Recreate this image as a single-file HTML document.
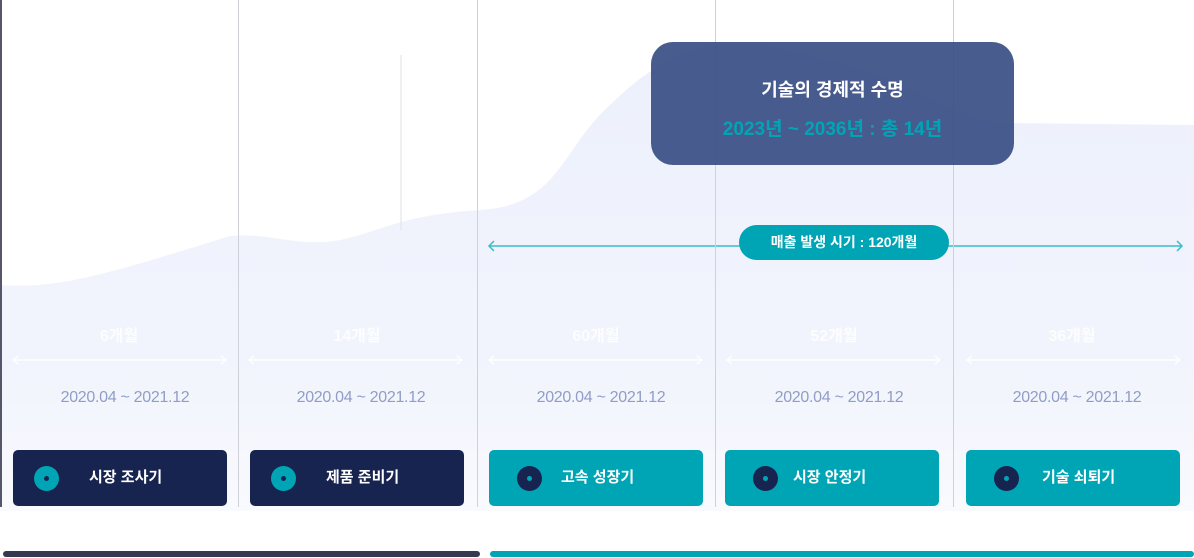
<!DOCTYPE html>
<html><head><meta charset="utf-8"><style>
*{margin:0;padding:0;box-sizing:border-box}
body{width:1194px;height:558px;background:#fff;position:relative;overflow:hidden;font-family:"Liberation Sans","Noto Sans CJK KR",sans-serif}
.a{position:absolute}
.vl{position:absolute;top:0;height:507px;width:1px;background:#cfd1da}
.btn{position:absolute;top:450px;width:214px;height:56px;border-radius:5px;color:#fff;font-weight:bold;font-size:15px;line-height:56px}
.btn .c{position:absolute;left:21px;top:16px;width:25px;height:25px;border-radius:50%}
.btn .c::after{content:"";position:absolute;left:10px;top:10px;width:5px;height:5px;border-radius:50%}
.d{background:#17244f}.d .c{background:#00a5b5}.d .c::after{background:#17244f}
.t{background:#00a5b5}.t .c{background:#17244f;left:28px}.t .c::after{background:#00a5b5}
.lab{position:absolute;width:238px;text-align:center;font-size:16px;font-weight:bold;color:#fff;top:322px;opacity:.9}
.dt{position:absolute;width:238px;text-align:center;font-size:16px;color:#8f9dc7;top:389px;letter-spacing:-0.3px}
</style></head><body>
<svg class="a" style="left:0;top:0" width="1194" height="558">
<defs><linearGradient id="g" x1="0" y1="0" x2="0" y2="1"><stop offset="0" stop-color="#ecf0fc"/><stop offset="0.75" stop-color="#f3f5fd"/><stop offset="1" stop-color="#f9fafe"/></linearGradient></defs>
<path d="M0,285 C60,290 120,270 230,236 C270,232 300,248 340,240 C380,232 400,215 480,210 C560,205 560,150 610,105 C650,65 690,45 730,45 C800,45 840,65 880,75 C940,100 970,123 1010,123 L1194,125 L1194,511 L0,511 Z" fill="url(#g)"/>
<line x1="401" y1="55" x2="401" y2="230" stroke="#e2e2e6" stroke-width="1"/>
<g stroke="#fff" stroke-width="1.5" fill="none" opacity="0.9">
<line x1="13" y1="360" x2="226" y2="360"/><path d="M18,356 L13,360 L18,364 M221,356 L226,360 L221,364"/>
<line x1="249" y1="360" x2="462" y2="360"/><path d="M254,356 L249,360 L254,364 M457,356 L462,360 L457,364"/>
<line x1="489" y1="360" x2="702" y2="360"/><path d="M494,356 L489,360 L494,364 M697,356 L702,360 L697,364"/>
<line x1="727" y1="360" x2="940" y2="360"/><path d="M732,356 L727,360 L732,364 M935,356 L940,360 L935,364"/>
<line x1="967" y1="360" x2="1180" y2="360"/><path d="M972,356 L967,360 L972,364 M1175,356 L1180,360 L1175,364"/>
</g>
<g stroke="#3bbcc8" stroke-width="1.5" fill="none">
<line x1="489" y1="246" x2="1182" y2="246"/><path d="M494,241 L489,246 L494,251 M1177,241 L1182,246 L1177,251"/>
</g>
</svg>
<div class="a" style="left:0;top:0;width:2px;height:507px;background:#55566a"></div>
<div class="vl" style="left:238px"></div>
<div class="vl" style="left:477px"></div>
<div class="vl" style="left:715px"></div>
<div class="vl" style="left:953px"></div>
<div class="a" style="left:651px;top:42px;width:363px;height:123px;border-radius:22px;background:rgba(54,76,131,0.91);text-align:center">
<div style="color:#fff;font-size:18px;font-weight:bold;margin-top:34px">기술의 경제적 수명</div>
<div style="color:#00a5b5;font-size:19px;font-weight:bold;margin-top:12px">2023년 ~ 2036년 : 총 14년</div></div>
<div class="a" style="left:739px;top:225px;width:210px;height:35px;border-radius:18px;background:#00a5b5;color:#fff;font-size:14px;font-weight:bold;text-align:center;line-height:35px">매출 발생 시기 : 120개월</div>
<div class="lab" style="left:0">6개월</div><div class="lab" style="left:238px">14개월</div><div class="lab" style="left:477px">60개월</div><div class="lab" style="left:715px">52개월</div><div class="lab" style="left:953px">36개월</div>
<div class="dt" style="left:6px">2020.04 ~ 2021.12</div><div class="dt" style="left:242px">2020.04 ~ 2021.12</div><div class="dt" style="left:482px">2020.04 ~ 2021.12</div><div class="dt" style="left:720px">2020.04 ~ 2021.12</div><div class="dt" style="left:958px">2020.04 ~ 2021.12</div>
<div class="btn d" style="left:13px"><span class="c"></span><span style="position:absolute;left:76px">시장 조사기</span></div>
<div class="btn d" style="left:250px"><span class="c"></span><span style="position:absolute;left:76px">제품 준비기</span></div>
<div class="btn t" style="left:489px"><span class="c"></span><span style="position:absolute;left:72px">고속 성장기</span></div>
<div class="btn t" style="left:725px"><span class="c"></span><span style="position:absolute;left:68px">시장 안정기</span></div>
<div class="btn t" style="left:966px"><span class="c"></span><span style="position:absolute;left:76px">기술 쇠퇴기</span></div>
<div class="a" style="left:3px;top:551px;width:477px;height:6px;border-radius:3px;background:#353a4f"></div>
<div class="a" style="left:490px;top:551px;width:704px;height:6px;border-radius:3px;background:#00a5b5"></div>
</body></html>
